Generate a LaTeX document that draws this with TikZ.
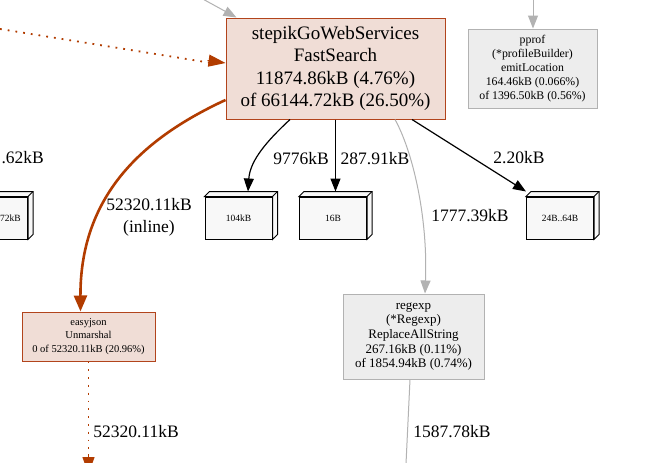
\documentclass[tikz,border=0pt]{standalone}
\usepackage{fontspec}
\setmainfont{Liberation Serif}
\usetikzlibrary{arrows.meta,calc}
\definecolor{mainfill}{RGB}{240,221,214}
\definecolor{mainborder}{RGB}{178,68,28}
\definecolor{brownedge}{RGB}{178,60,0}
\definecolor{grayfill}{RGB}{237,237,237}
\definecolor{grayborder}{RGB}{178,178,178}
\definecolor{boxfill}{RGB}{248,248,248}
\tikzset{
  fnode/.style={draw, rectangle, align=center, inner sep=0pt, line width=1pt},
  hotnode/.style={fnode, fill=mainfill, draw=mainborder},
  coldnode/.style={fnode, fill=grayfill, draw=grayborder},
  boxthree/.style={draw, fill=boxfill, rectangle, inner sep=0pt, line width=1pt,
    minimum width=67pt, minimum height=42pt, font=\fontsize{9.5}{11}\selectfont},
  elab/.style={font=\fontsize{17.5}{21}\selectfont, inner sep=0pt},
  blackedge/.style={draw=black, line width=1.2pt, -{Triangle[length=13pt,width=10pt]}},
  grayedge/.style={draw=grayborder, line width=1pt, -{Triangle[length=13pt,width=10pt]}, color=grayborder},
  thickbrown/.style={draw=brownedge, line width=2.6pt, -{Triangle[length=16pt,width=13pt]}, color=brownedge},
  dotbrown/.style={draw=brownedge, line width=1.8pt, dash pattern=on 1.8pt off 6pt, color=brownedge},
  dottip/.style={solid, line width=1pt, -{Triangle[length=17pt,width=12pt]}}
}
\begin{document}
\begin{tikzpicture}[x=1pt,y=-1pt]
\useasboundingbox (0,0) rectangle (667,463);
\clip (0,0) rectangle (667,463);
\fill[white] (0,0) rectangle (667,463);

% nodes
\node[hotnode, minimum width=219pt, minimum height=101pt,
  font=\fontsize{19}{22.5}\selectfont] (main) at (335.5,68.5)
  {stepikGoWebServices\\FastSearch\\11874.86kB (4.76\%)\\of 66144.72kB (26.50\%)};
\node[coldnode, minimum width=129pt, minimum height=79pt,
  font=\fontsize{11.8}{14}\selectfont] (pp) at (532.5,68.5)
  {pprof\\(*profileBuilder)\\emitLocation\\164.46kB (0.066\%)\\of 1396.50kB (0.56\%)};
\node[hotnode, minimum width=133pt, minimum height=49pt,
  font=\fontsize{10.5}{13.5}\selectfont, draw=mainborder] (ej) at (88.5,336.5)
  {easyjson\\Unmarshal\\0 of 52320.11kB (20.96\%)};
\node[coldnode, minimum width=141pt, minimum height=85pt,
  font=\fontsize{13}{14.7}\selectfont] (rx) at (413.5,336.5)
  {regexp\\(*Regexp)\\ReplaceAllString\\267.16kB (0.11\%)\\of 1854.94kB (0.74\%)};

\node[boxthree] (b104) at (238.5,218) {104kB};
\node[boxthree] (b16) at (333,218) {16B};
\node[boxthree] (b24) at (560,218) {24B..64B};
\node[boxthree, text width=0pt] (bl) at (-6,218) {};
\node[font=\fontsize{9.5}{11}\selectfont, inner sep=0pt, anchor=east] (bltext) at (21,218) {72kB};

\foreach \b in {b104,b16,b24,bl}{
  \draw[line width=1pt, fill=boxfill] (\b.north west) -- ++(5,-5) -- ($(\b.north east)+(5,-5)$)
    -- ($(\b.south east)+(5,-5)$) -- (\b.south east) -- (\b.north east) -- cycle;
  \draw[line width=1pt] (\b.north east) -- ++(5,-5);
}

% free ends
\coordinate (gsrc) at (190,-8);
\coordinate (ppsrc) at (533,-8);
\coordinate (dsrc) at (0,29);
\coordinate (ejout) at (88.5,474);
\coordinate (rxout) at (405,485);

% edges
\draw[grayedge] (gsrc) -- ([xshift=11pt]main.north west);
\draw[grayedge] (ppsrc) -- ([xshift=0.5pt]pp.north);
\draw[dotbrown] (dsrc) -- ([yshift=5.5pt,xshift=-14pt]main.west);
\draw[dotbrown, dottip] ([yshift=8pt,xshift=-18pt]main.west) -- ([yshift=5.5pt]main.west);
\draw[thickbrown] ([yshift=-31.5pt]main.west) .. controls (150,135) and (80,190) .. ([xshift=-8pt]ej.north);
\draw[dotbrown] (ej.south) -- ([yshift=14pt]ejout);
\draw[dotbrown, dottip] ([yshift=20pt]ejout) -- (ejout);

\draw[blackedge] ([xshift=-45.5pt]main.south) .. controls (268,140) and (250,160) .. ([xshift=9.5pt,yshift=5pt]b104.north);
\draw[blackedge] ([xshift=0pt]main.south) -- ([xshift=2.5pt,yshift=5pt]b16.north);
\draw[blackedge] ([xshift=76.5pt]main.south) -- ([yshift=5pt]b24.north west);
\draw[grayedge] ([xshift=59.5pt]main.south) .. controls (412,150) and (428,215) .. ([xshift=11.5pt]rx.north);
\draw[grayedge] ([xshift=-3.5pt]rx.south) -- (rxout);

% labels
\node[elab] (l1) at (301,159) {9776kB};
\node[elab] (l2) at (375,159) {287.91kB};
\node[elab] (l3) at (519,158) {2.20kB};
\node[elab] (l4) at (470,216) {1777.39kB};
\node[elab, align=center, font=\fontsize{17.5}{21.5}\selectfont] (l5) at (149,217.5) {52320.11kB\\(inline)};
\node[elab] (l6) at (136,432) {52320.11kB};
\node[elab] (l7) at (452,432) {1587.78kB};
\node[elab, anchor=east] (l8) at (44,158) {.62kB};
\end{tikzpicture}
\end{document}
